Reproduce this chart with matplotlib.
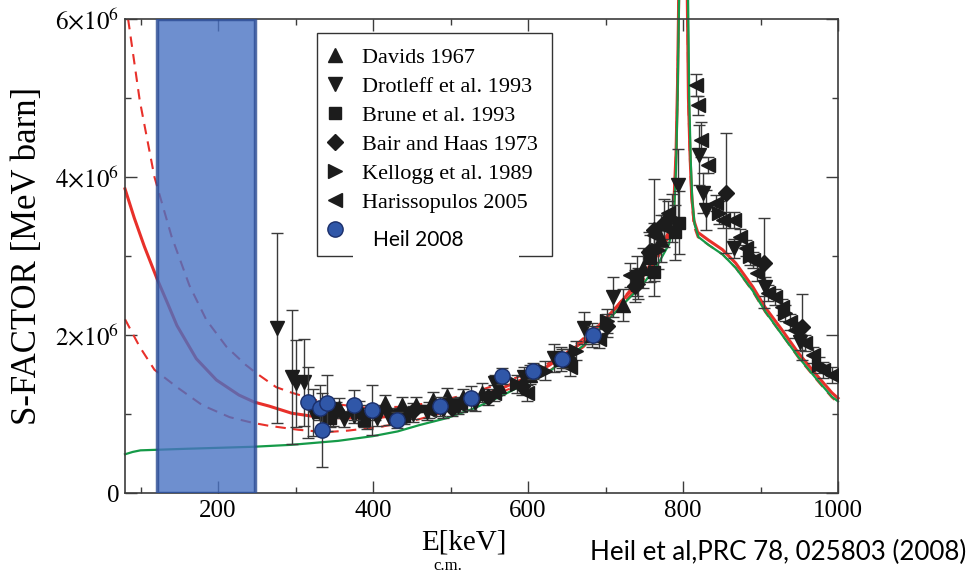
import numpy as np
import matplotlib.pyplot as plt
from matplotlib.lines import Line2D
from matplotlib.patches import Rectangle
from matplotlib.ticker import FixedLocator, FuncFormatter

plt.rcParams['font.family'] = ['Liberation Serif', 'DejaVu Serif']
plt.rcParams['mathtext.fontset'] = 'stix'

# ---- fit curves, E in keV, S in 1e6 MeV barn ----
red_lo_E = [80, 92, 105, 121, 135, 147, 172, 198, 227, 247, 266, 295, 330, 368, 411, 441, 480, 518, 560,
            603, 628, 672, 714, 749, 769, 782, 788, 791, 793, 794.5]
red_lo_S = [3.85, 3.48, 3.12, 2.72, 2.4, 2.12, 1.7, 1.43, 1.24, 1.15, 1.10, 1.01, 0.96, 0.95, 0.96, 1.0,
            1.07, 1.16, 1.30, 1.48, 1.62, 1.92, 2.35, 2.75, 3.05, 3.3, 3.62, 4.3, 5.2, 6.3]
red_hi_E = [805.5, 807, 809, 811, 814, 819, 833, 851, 868, 890, 906, 928, 949, 970, 992, 1000]
red_hi_S = [6.3, 5.0, 4.3, 3.8, 3.45, 3.3, 3.2, 3.08, 2.91, 2.61, 2.35, 2.06, 1.77, 1.52, 1.27, 1.2]

up_lo_E = [84, 99, 118, 140, 163, 185, 211, 236, 249, 275, 295, 339, 390, 432, 475, 518, 560, 612, 650,
           700, 749, 769, 782, 788, 791, 793, 794.5]
up_lo_S = [6.0, 4.97, 4.0, 3.25, 2.63, 2.19, 1.85, 1.62, 1.52, 1.34, 1.27, 1.14, 1.08, 1.09, 1.14, 1.24,
           1.37, 1.56, 1.78, 2.2, 2.77, 3.07, 3.32, 3.65, 4.3, 5.2, 6.3]
lo_lo_E = [80, 99, 118, 147, 180, 215, 244, 266, 304, 339, 368, 411, 454, 496, 539, 582, 625, 672, 714,
           749, 769, 782, 788, 791, 793, 794.5]
lo_lo_S = [2.2, 1.85, 1.56, 1.34, 1.11, 0.96, 0.89, 0.85, 0.80, 0.77, 0.79, 0.84, 0.92, 1.03, 1.18, 1.34,
           1.53, 1.85, 2.3, 2.7, 3.0, 3.25, 3.55, 4.2, 5.1, 6.3]
dash_hi_E = [805.5, 807, 809, 811, 814, 819, 833, 851, 868, 890, 906, 928, 949, 970, 992, 1000]
dash_hi_S = [6.3, 4.9, 4.2, 3.72, 3.38, 3.24, 3.14, 3.02, 2.85, 2.55, 2.29, 2.0, 1.71, 1.46, 1.21, 1.14]

grn_lo_E = [80, 90, 100, 160, 245, 295, 355, 400, 432, 460, 496, 530, 560, 600, 625, 672, 714, 749, 769,
            782, 788, 791, 793, 795]
grn_lo_S = [0.49, 0.52, 0.54, 0.56, 0.585, 0.61, 0.66, 0.72, 0.78, 0.86, 0.95, 1.07, 1.2, 1.4, 1.52, 1.87,
            2.3, 2.65, 2.92, 3.15, 3.45, 4.1, 5.0, 6.3]
grn_hi_E = [806.5, 808, 810, 812, 815, 820, 833, 851, 868, 890, 906, 928, 949, 970, 992, 1000]
grn_hi_S = [6.3, 5.0, 4.2, 3.7, 3.4, 3.24, 3.14, 3.02, 2.85, 2.56, 2.3, 2.0, 1.72, 1.47, 1.22, 1.16]

# ---- data sets ----
dav_E = [330, 356, 382, 416, 437, 456, 477, 496, 516, 540, 562, 602, 642, 682, 722, 748, 772]
dav_S = [1.04, 1.08, 1.07, 1.14, 1.12, 1.12, 1.18, 1.23, 1.22, 1.27, 1.36, 1.50, 1.70, 2.00, 2.38, 2.85, 3.22]
dav_err = [0.12, 0.12, 0.1, 0.1, 0.1, 0.1, 0.1, 0.1, 0.1, 0.12, 0.12, 0.12, 0.15, 0.15, 0.2, 0.25, 0.3]

dro_E = [276, 295, 300, 311, 322, 335, 348, 362, 376, 392, 405, 420, 436, 452, 470, 490, 510, 532, 557,
         595, 633, 672, 710, 794, 821, 826, 830, 866, 906, 951]
dro_S = [2.09, 1.47, 1.39, 1.40, 1.02, 0.96, 0.97, 0.94, 0.98, 0.96, 0.95, 0.96, 0.98, 1.0, 1.02, 1.05,
         1.10, 1.14, 1.39, 1.47, 1.71, 2.09, 2.48, 3.9, 4.28, 3.8, 3.58, 3.1, 2.61, 1.91]
dro_err = [1.2, 0.85, 0.55, 0.55, 0.3, 0.2, 0.12, 0.1, 0.1, 0.15, 0.1, 0.1, 0.1, 0.1, 0.1, 0.1, 0.1, 0.1,
           0.1, 0.12, 0.18, 0.2, 0.25, 0.45, 0.38, 0.25, 0.25, 0.12, 0.12, 0.1]

bru_E = [345, 388, 440, 740, 757, 762, 790, 795]
bru_S = [0.95, 0.93, 0.97, 2.75, 2.97, 2.8, 3.3, 3.42]
bru_err = [0.12, 0.1, 0.1, 0.25, 0.3, 0.3, 0.35, 0.4]

bai_E = [352, 402, 452, 502, 548, 592, 652, 702, 738, 756, 762, 776, 855, 904, 954]
bai_S = [1.05, 1.02, 1.04, 1.08, 1.22, 1.36, 1.70, 2.12, 2.62, 3.05, 3.33, 3.42, 3.80, 2.91, 2.10]
bai_err = [0.1, 0.1, 0.1, 0.1, 0.1, 0.12, 0.12, 0.15, 0.2, 0.25, 0.65, 0.3, 0.76, 0.57, 0.42]

kel_E = [586, 622, 662, 702, 742, 768, 786, 846, 886, 932, 976]
kel_S = [1.38, 1.55, 1.80, 2.18, 2.65, 3.08, 3.48, 3.55, 3.0, 2.28, 1.62]
kel_err = [0.12, 0.12, 0.12, 0.15, 0.2, 0.25, 0.3, 0.15, 0.12, 0.1, 0.1]

har_E = [342, 386, 430, 472, 512, 556, 599, 654, 692, 731, 762, 775, 781, 817, 819, 823, 832, 842, 851,
         866, 874, 881, 890, 896, 910, 919, 928, 938, 945, 958, 968, 981, 992]
har_S = [1.0, 0.98, 0.97, 1.05, 1.12, 1.27, 1.27, 1.60, 1.95, 2.76, 3.27, 3.37, 3.55, 5.16, 4.91, 4.47,
         4.15, 3.67, 3.46, 3.46, 3.24, 3.10, 2.95, 2.78, 2.53, 2.48, 2.35, 2.16, 2.06, 1.90, 1.75, 1.56, 1.49]
har_err = [0.1, 0.1, 0.1, 0.1, 0.1, 0.1, 0.1, 0.12, 0.12, 0.15, 0.15, 0.15, 0.15, 0.14, 0.12, 0.22,
           0.1, 0.1, 0.1, 0.1, 0.1, 0.1, 0.1, 0.1, 0.1, 0.1, 0.1, 0.1, 0.1, 0.1, 0.1, 0.1, 0.1]

heil_E = [316, 332, 334, 340, 375, 399, 431, 487, 527, 567, 607, 644, 684]
heil_S = [1.15, 1.07, 0.80, 1.14, 1.11, 1.05, 0.92, 1.10, 1.20, 1.48, 1.54, 1.70, 2.00]
heil_err = [0.45, 0.3, 0.47, 0.35, 0.19, 0.32, 0.1, 0.12, 0.15, 0.1, 0.1, 0.12, 0.12]

labels = ['Davids 1967', 'Drotleff et al. 1993', 'Brune et al. 1993', 'Bair and Haas 1973',
          'Kellogg et al. 1989', 'Harissopulos 2005']
heil_label = 'Heil 2008'

M = 1e6
RED = '#e8302a'
GREEN = '#159a48'
BLK = '#1c1c1c'
AXC = '#3c3c3c'
W, H = 974, 574

fig = plt.figure(figsize=(9.74, 5.74), dpi=100)
ax = fig.add_axes([125 / W, 1 - 493 / H, 713 / W, 474 / H])

# curves
for E, S in [(red_lo_E, red_lo_S), (red_hi_E, red_hi_S)]:
    ax.plot(E, np.array(S) * M, color=RED, lw=2.2, zorder=2, clip_on=False)
for E, S in [(up_lo_E, up_lo_S), (lo_lo_E, lo_lo_S), (dash_hi_E, dash_hi_S)]:
    ax.plot(E, np.array(S) * M, color=RED, lw=1.5, ls=(0, (5, 3.5)), zorder=2, clip_on=False)
for E, S in [(grn_lo_E, grn_lo_S), (grn_hi_E, grn_hi_S)]:
    ax.plot(E, np.array(S) * M, color=GREEN, lw=1.6, zorder=2.1, clip_on=False)

# data with error bars
sets = [(dav_E, dav_S, dav_err, '^', 10.5),
        (dro_E, dro_S, dro_err, 'v', 10.5),
        (bru_E, bru_S, bru_err, 's', 9),
        (bai_E, bai_S, bai_err, 'D', 8),
        (kel_E, kel_S, kel_err, '>', 10.5),
        (har_E, har_S, har_err, '<', 10.5)]
for E, S, err, mk, ms in sets:
    ax.errorbar(E, np.array(S) * M, yerr=np.array(err) * M, fmt='none', ecolor='#3a3a3a',
                elinewidth=1, capsize=4.5, capthick=1, zorder=3)
for E, S, err, mk, ms in sets:
    ax.plot(E, np.array(S) * M, ls='none', marker=mk, ms=ms, color=BLK, mec=BLK, zorder=4)
ax.errorbar(heil_E, np.array(heil_S) * M, yerr=np.array(heil_err) * M, fmt='none', ecolor='#3a3a3a',
            elinewidth=1, capsize=4.5, capthick=1, zorder=4.5)
ax.plot(heil_E, np.array(heil_S) * M, ls='none', marker='o', ms=11, color='#3057a8', mec='#1b2f6a',
        mew=1, zorder=5)

# energy window
ax.axvspan(121, 248, facecolor=(74 / 255, 115 / 255, 196 / 255), edgecolor='#2b4b93', lw=2.5,
           alpha=0.8, zorder=6)

ax.set_xlim(80, 1000)
ax.set_ylim(0, 6 * M)
ax.xaxis.set_major_locator(FixedLocator([200, 400, 600, 800, 1000]))
ax.xaxis.set_minor_locator(FixedLocator([100, 300, 500, 700, 900]))
ax.yaxis.set_major_locator(FixedLocator([0, 2 * M, 4 * M, 6 * M]))
ax.yaxis.set_minor_locator(FixedLocator([1 * M, 3 * M, 5 * M]))


def sci(v, pos):
    if v == 0:
        return '0'
    return r'$%d{\times}10^{6}$' % round(v / M)


ax.yaxis.set_major_formatter(FuncFormatter(sci))
ax.tick_params(which='both', direction='in', top=True, right=True, color=AXC, width=1)
ax.tick_params(which='major', length=8.6, labelsize=18)
ax.tick_params(axis='x', which='major', pad=5)
ax.tick_params(axis='y', which='major', pad=4)
ax.tick_params(which='minor', length=4.3)
for s in ax.spines.values():
    s.set_color(AXC)
    s.set_linewidth(1.2)

ax.set_ylabel('S-FACTOR [MeV barn]', fontsize=25)
ax.yaxis.set_label_coords((44 - 125) / 713, 0.5)
# x label: "E[keV]" with the small "c.m." set under it, as in the original
ax.set_xlabel('E[keV]', fontsize=21)
ax.xaxis.set_label_coords((464 - 125) / 713, (493 - 529) / 474)
fig.text(433 / W, 1 - 569.5 / H, 'c.m.', fontsize=12, ha='left', va='baseline')

# legend (Heil entry text is added separately in a sans font)
markers = ['^', 'v', 's', 'D', '>', '<']
sizes = [10.5, 10.5, 9, 8, 10.5, 10.5]
handles = [Line2D([], [], ls='none', marker=m, ms=s, color=BLK) for m, s in zip(markers, sizes)]
handles.append(Line2D([], [], ls='none', marker='o', ms=11, color='#3057a8', mec='#1b2f6a'))
leg = ax.legend(handles, labels + [' '], loc='upper left',
                bbox_to_anchor=((317 - 125) / 713, (493 - 33) / 474),
                borderaxespad=0, fancybox=False, edgecolor='#333333', fontsize=16, handlelength=0.3,
                handletextpad=1.07, labelspacing=0.38, borderpad=0.64, framealpha=1)
leg.get_frame().set_linewidth(1)
leg.set_zorder(10)

# white gap in the legend's lower edge and the Heil label
fig.patches.append(Rectangle((353 / W, 1 - 261 / H), 166 / W, 14 / H, transform=fig.transFigure,
                             facecolor='white', edgecolor='none', zorder=5))
fig.text(373 / W, 1 - 240 / H, heil_label, fontsize=15, family=['Lato', 'DejaVu Sans'],
         ha='left', va='center', zorder=6)

fig.text(590 / W, 1 - 560 / H, 'Heil et al,PRC 78, 025803 (2008)', fontsize=18.7,
         family=['Lato', 'DejaVu Sans'], ha='left', va='baseline')

fig.savefig('out.png', dpi=100)
